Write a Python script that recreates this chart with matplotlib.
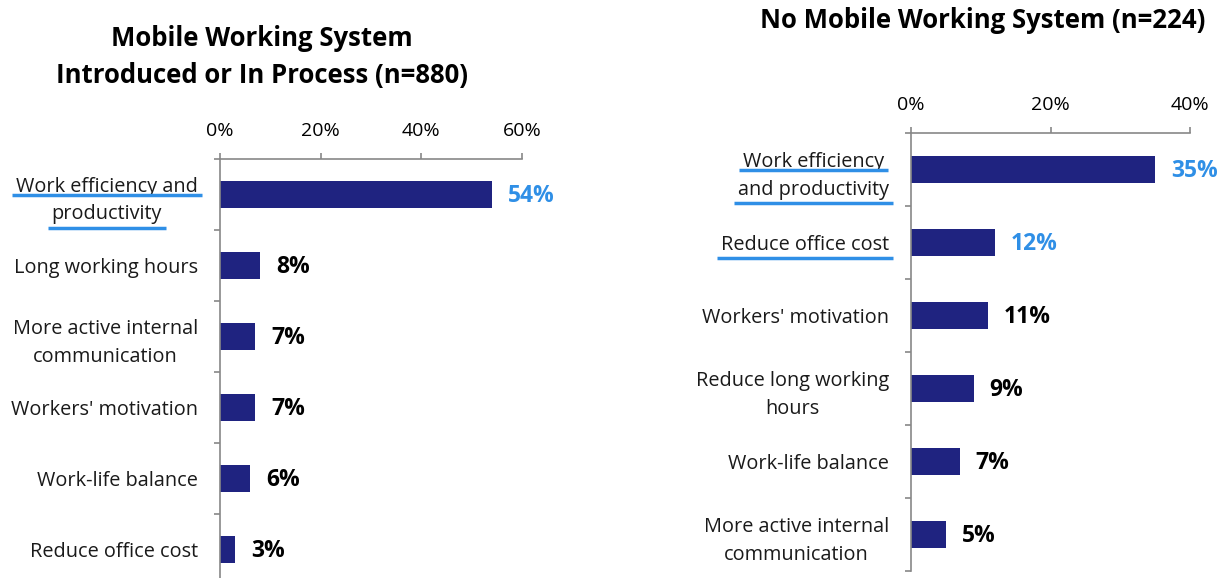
import numpy as np
import matplotlib.pyplot as plt
from matplotlib.lines import Line2D

plt.rcParams['font.family'] = ['Open Sans', 'DejaVu Sans']

# left panel data
left_cats = ['Work efficiency and\nproductivity', 'Long working hours',
             'More active internal\ncommunication', "Workers' motivation",
             'Work-life balance', 'Reduce office cost']
left_vals = [54, 8, 7, 7, 6, 3]
left_hi = ['Work efficiency and\nproductivity']
left_title = 'Mobile Working System\nIntroduced or In Process (n=880)'
left_xticks = [0, 20, 40, 60]

# right panel data
right_cats = ['Work efficiency\nand productivity', 'Reduce office cost',
              "Workers' motivation", 'Reduce long working\nhours',
              'Work-life balance', 'More active internal\ncommunication']
right_vals = [35, 12, 11, 9, 7, 5]
right_hi = ['Work efficiency\nand productivity', 'Reduce office cost']
right_title = 'No Mobile Working System (n=224)'
right_xticks = [0, 20, 40]

BAR = '#1f2380'
HI = '#2f8fe6'
GREY = '#878787'
W, H = 1227, 578

fig = plt.figure(figsize=(W / 100, H / 100), dpi=100)


def panel(rect, cats, vals, ticks, hi):
    ax = fig.add_axes(rect)
    y = np.arange(len(cats))
    ax.barh(y, vals, height=0.38, color=BAR)
    ax.set_ylim(len(cats) - 0.5, -0.5)
    ax.set_xlim(ticks[0], ticks[-1])
    ax.set_xticks(ticks)
    ax.set_xticklabels([f'{t}%' for t in ticks], fontsize=14)
    ax.xaxis.tick_top()
    ax.tick_params(axis='x', direction='out', length=4, width=1.2,
                   color=GREY, pad=10)
    ax.set_yticks(y)
    ax.set_yticklabels(cats, fontsize=14.3, multialignment='center',
                       color='#1a1a1a', linespacing=1.5)
    ax.set_yticks(np.arange(-0.5, len(cats), 1), minor=True)
    ax.tick_params(axis='y', which='major', length=0, pad=16)
    ax.tick_params(axis='y', which='minor', direction='out', length=4.5,
                   width=1.2, color=GREY)
    for s in ['right', 'bottom']:
        ax.spines[s].set_visible(False)
    for s in ['left', 'top']:
        ax.spines[s].set_color(GREY)
        ax.spines[s].set_linewidth(1.2)
    for i, (c, v) in enumerate(zip(cats, vals)):
        col = HI if c in hi else 'black'
        ax.annotate(f'{v}%', (v, i), xytext=(11.5, -1),
                    textcoords='offset points', va='center', ha='left',
                    fontsize=16.5, fontweight='bold', color=col)
    return ax


axl = panel([220 / W, -7 / H, 302 / W, 426 / H], left_cats, left_vals,
            left_xticks, left_hi)
axr = panel([911 / W, 7 / H, 279 / W, 438 / H], right_cats, right_vals,
            right_xticks, right_hi)

fig.text(262 / W, 1 - 57 / H, left_title, ha='center', va='center',
         fontsize=18.5, fontweight='bold', linespacing=1.5)
fig.text(983 / W, 1 - 21 / H, right_title, ha='center', va='center',
         fontsize=18.5, fontweight='bold')

# underline the highlighted category labels
fig.canvas.draw()
rend = fig.canvas.get_renderer()
for ax, hi in [(axl, left_hi), (axr, right_hi)]:
    for lab in ax.get_yticklabels():
        txt = lab.get_text()
        if txt not in hi:
            continue
        bb = lab.get_window_extent(rend)
        lines = txt.split('\n')
        lh = bb.height / len(lines)
        cx = (bb.x0 + bb.x1) / 2
        for i, ln in enumerate(lines):
            t = fig.text(0, 0, ln, fontsize=lab.get_fontsize())
            w = t.get_window_extent(rend).width
            t.remove()
            if i == len(lines) - 1:
                yy = bb.y0 - 3
            else:
                yy = bb.y1 - (i + 1) * lh + 6
            fig.add_artist(Line2D([(cx - w / 2 - 4) / W, (cx + w / 2 + 4) / W],
                                  [yy / H, yy / H],
                                  transform=fig.transFigure, color=HI,
                                  lw=2.5, solid_capstyle='butt'))

fig.savefig('out.png', dpi=100)
